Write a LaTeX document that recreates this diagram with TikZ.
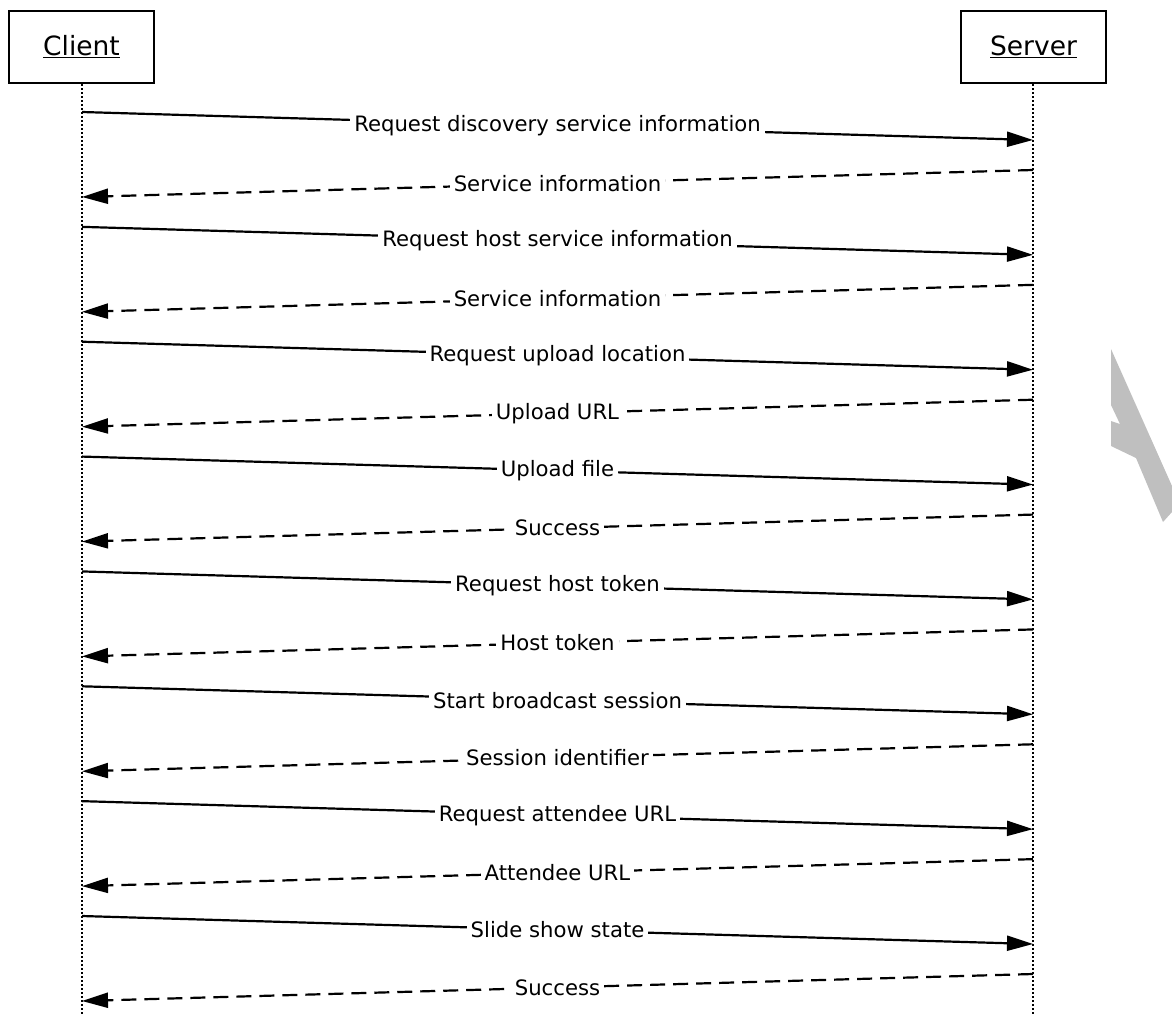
\documentclass[tikz,border=0pt]{standalone}
\usepackage{fontspec}
\setmainfont{DejaVu Sans}
\usetikzlibrary{arrows.meta}

\tikzset{
  actor/.style={draw,line width=2pt,minimum width=145pt,minimum height=72pt,inner sep=0pt,font=\fontsize{26.5}{30}\selectfont},
  lifeline/.style={line width=2pt,dash pattern=on 2pt off 2pt},
  request/.style={line width=2.2pt,-{Triangle[length=26pt,width=15pt]}},
  reply/.style={request,dash pattern=on 15pt off 8pt},
  msg/.style={midway,fill=white,inner sep=4pt,font=\fontsize{21.2}{25}\selectfont},
  watermark/.style={fill=black!25}
}

\begin{document}
\begin{tikzpicture}[x=1pt,y=-1pt]
\useasboundingbox (0,0) rectangle (1172,1015);

\node[actor] (client) at (81.5,47) {\underline{Client}};
\node[actor] (server) at (1033.5,47) {\underline{Server}};
\coordinate (clientend) at (82,1015);
\coordinate (serverend) at (1033,1015);
\draw[lifeline] (client.south -| clientend) -- (clientend);
\draw[lifeline] (server.south -| serverend) -- (serverend);

\foreach \n/\req/\rep in {
  0/Request discovery service information/Service information,
  1/Request host service information/Service information,
  2/Request upload location/Upload URL,
  3/Upload file/Success,
  4/Request host token/Host token,
  5/Start broadcast session/Session identifier,
  6/Request attendee URL/Attendee URL,
  7/Slide show state/Success}
{
  \coordinate (cq\n) at (82,112+114.857*\n);
  \coordinate (sq\n) at (1033,140+114.857*\n);
  \coordinate (sp\n) at (1033,170+114.857*\n);
  \coordinate (cp\n) at (82,197+114.857*\n);
  \draw[request] (cq\n) -- (sq\n) node[msg] {\req};
  \draw[reply] (sp\n) -- (cp\n) node[msg] {\rep};
}

\fill[watermark] (1111,349) -- (1172,486) -- (1172,512) -- (1163,522) -- (1136,458)
  -- (1111,446) -- (1111,421) -- (1120,424) -- (1111,405) -- cycle;
\end{tikzpicture}
\end{document}
